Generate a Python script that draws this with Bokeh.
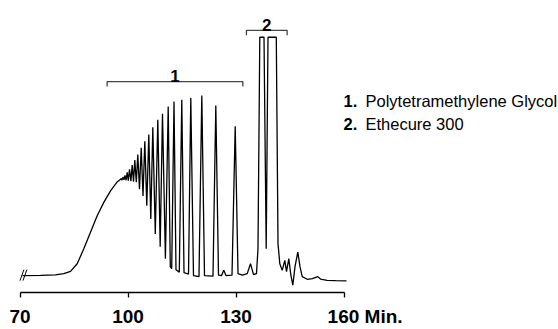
from bokeh.plotting import figure
from bokeh.models import Range1d, FixedTicker, Label
from bokeh.embed import file_html
from bokeh.resources import INLINE

# ---------------- data ----------------
time_min = [70.69, 75.69, 79.86, 82.17, 84.03, 85.89, 87.72, 89.58, 91.44, 93.28,
            95.14, 97.00, 97.78, 98.06, 98.33, 98.61, 98.89, 99.17, 99.47, 99.78,
            100.08, 100.42, 100.81, 101.17, 101.53, 101.89, 102.31, 102.72, 103.19, 103.67,
            104.17, 104.67, 105.22, 105.78, 106.33, 106.89, 107.58, 108.28, 108.94, 109.58,
            110.39, 111.17, 111.75, 112.14, 112.78, 113.33, 114.25, 114.94, 115.56, 116.81,
            117.44, 118.19, 119.72, 120.50, 121.25, 123.61, 124.39, 125.14, 125.97, 126.61,
            127.22, 128.89, 129.78, 130.56, 131.81, 133.11, 134.03, 134.86, 135.69, 136.11,
            136.61, 137.78, 138.39, 138.89, 141.19, 141.67, 142.17, 142.83, 143.56, 144.03,
            144.67, 145.22, 145.78, 146.39, 147.17, 147.78, 148.39, 149.78, 151.25, 152.72,
            153.47, 155.33, 157.64, 160.69]
signal = [0.00, 0.08, 0.33, 0.83, 1.79, 5.00, 11.25, 18.21, 25.13, 30.71,
          35.54, 39.29, 40.21, 40.71, 40.08, 41.33, 40.21, 42.08, 40.00, 43.33,
          39.79, 44.58, 39.58, 46.38, 39.38, 48.46, 39.17, 50.83, 36.25, 53.63,
          33.46, 56.38, 29.29, 59.17, 23.75, 62.21, 17.50, 65.42, 12.08, 67.92,
          7.08, 70.96, 3.75, 2.92, 73.00, 2.50, 1.46, 73.75, 1.25, 0.63,
          74.46, 0.00, -0.42, 75.54, 0.00, -0.21, 71.38, 0.21, 0.00, 2.21,
          0.00, 0.21, 62.63, 0.83, 0.21, 0.83, 5.00, 0.42, 0.83, 11.25,
          100.0, 100.0, 11.25, 100.0, 100.0, 13.33, 5.00, 2.21, 6.38, 1.67,
          7.08, 0.42, -4.04, 3.75, 9.88, 3.75, -0.42, -1.54, -1.25, -0.42,
          -1.46, -1.96, -2.08, -2.21]

tick_values = [70, 100, 130, 160]
tick_labels = ["70", "100", "130", "160"]
axis_unit = "Min."

bracket_labels = ["1", "2"]
bracket_start = [94.2, 132.9]
bracket_end = [131.9, 144.2]
bracket_level = [81.4, 102.9]

legend_numbers = ["1.", "2."]
legend_names = ["Polytetramethylene Glycol", "Ethecure 300"]

# ---------------- layout ----------------
W, H = 558, 329
FRAME_H = 294
PX_PER_MIN = 3.6
X0_PX = 19.5          # screen x of the 70 min tick
PX_PER_UNIT = 2.4
BASE_PX = 277.0       # screen y of the baseline
TICK_OUT = 5
STANDOFF = 8
TICK_FONT_SIZE = "19px"

x_start = 70 - X0_PX / PX_PER_MIN
x_end = x_start + W / PX_PER_MIN
y_top = BASE_PX / PX_PER_UNIT
y_bottom = -(FRAME_H - BASE_PX) / PX_PER_UNIT


def sx_to_t(px):
    return x_start + px / PX_PER_MIN


def sy_to_v(py):
    return (BASE_PX - py) / PX_PER_UNIT


SANS = "Liberation Sans"
NBSP = "\u00a0"

p = figure(width=W, height=H, x_range=Range1d(x_start, x_end),
           y_range=Range1d(y_bottom, y_top), output_backend="svg",
           toolbar_location=None, y_axis_location=None,
           min_border_left=0, min_border_right=0, min_border_top=0,
           min_border_bottom=H - FRAME_H)
p.grid.visible = False
p.outline_line_color = None
p.background_fill_color = "white"
p.border_fill_color = "white"

# last tick label carries the unit; left padding keeps the number centred on its tick
overrides = dict(zip(tick_values, tick_labels))
overrides[tick_values[-1]] = NBSP * 8 + tick_labels[-1] + " " + axis_unit

ax = p.xaxis[0]
ax.ticker = FixedTicker(ticks=tick_values)
ax.bounds = (tick_values[0], tick_values[-1])
ax.major_label_overrides = overrides
ax.major_tick_in = 0
ax.major_tick_out = TICK_OUT
ax.minor_tick_line_color = None
ax.axis_line_width = 1.3
ax.major_tick_line_width = 1.3
ax.axis_line_color = "black"
ax.major_tick_line_color = "black"
ax.major_label_text_font = SANS
ax.major_label_text_font_style = "bold"
ax.major_label_text_font_size = TICK_FONT_SIZE
ax.major_label_text_color = "black"
ax.major_label_standoff = STANDOFF

# chromatogram trace
p.line(time_min, signal, line_color="black", line_width=1.3)

# axis break marks at the start of the trace
t0, v0 = time_min[0], signal[0]
p.segment(x0=[t0 - 0.7, t0 + 0.13], y0=[v0 - 2.1, v0 - 2.1],
          x1=[t0 + 0.4, t0 + 1.23], y1=[v0 + 2.5, v0 + 2.5],
          line_color="black", line_width=1.0)

# peak group brackets
for lab, s, e, lvl in zip(bracket_labels, bracket_start, bracket_end, bracket_level):
    p.line([s, s, e, e], [lvl - 2.1, lvl, lvl, lvl - 2.1], line_color="#444444", line_width=1.3)
    p.add_layout(Label(x=(s + e) / 2, y=lvl + 2.4, text=lab, text_font=SANS,
                       text_font_style="bold", text_font_size="17px",
                       text_align="center", text_baseline="alphabetic", text_color="black"))

# legend text
for i, (num, name) in enumerate(zip(legend_numbers, legend_names)):
    base = 100.7 + i * 23.3
    p.add_layout(Label(x=sx_to_t(343), y=sy_to_v(base), text=num, text_font=SANS,
                       text_font_style="bold", text_font_size="16.5px",
                       text_baseline="alphabetic", text_color="black"))
    p.add_layout(Label(x=sx_to_t(365), y=sy_to_v(base), text=name, text_font=SANS,
                       text_font_size="16.5px", text_baseline="alphabetic",
                       text_color="black"))

open("out.html", "w").write(file_html(p, INLINE))
